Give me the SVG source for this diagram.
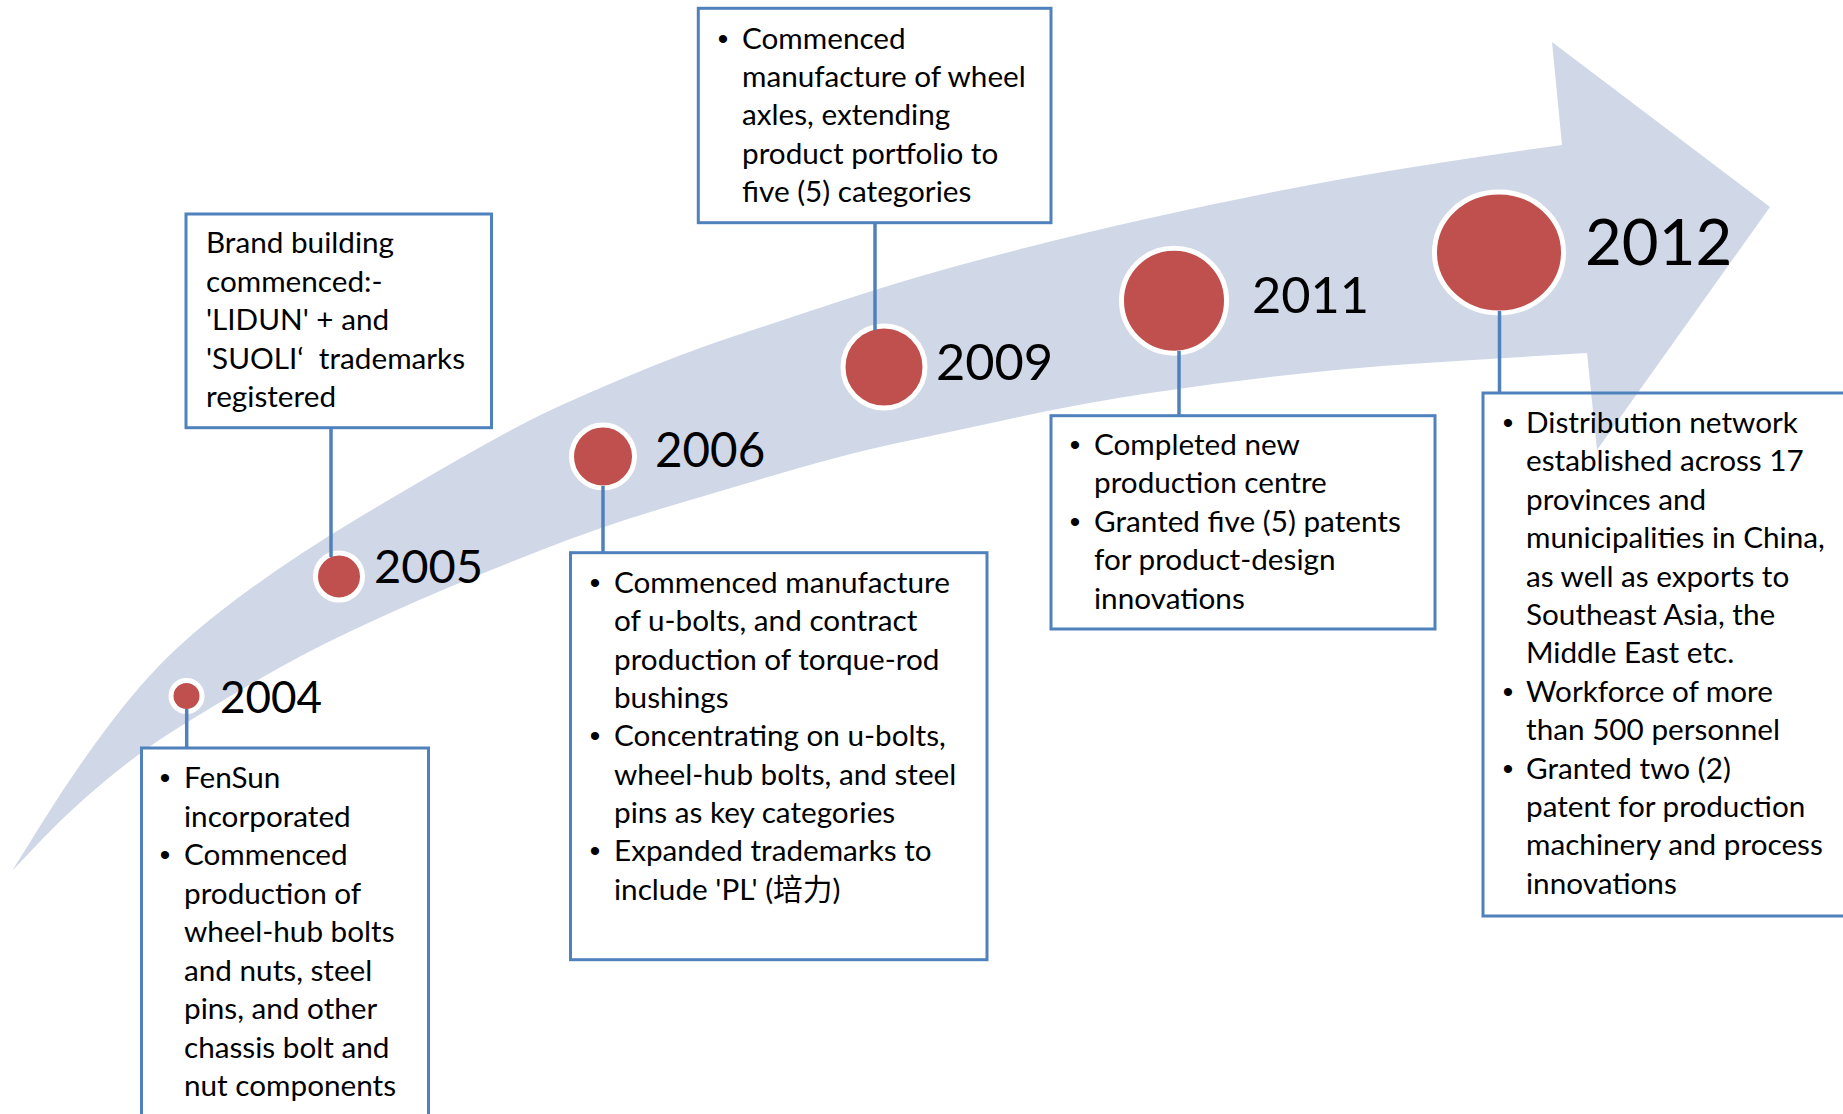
<svg xmlns="http://www.w3.org/2000/svg" width="1843" height="1114" viewBox="0 0 1843 1114">
<style>
.body{font-family:Lato,"Noto Sans CJK SC",sans-serif;font-size:29.7px;fill:#000}
.bul{font-family:"Liberation Sans",sans-serif;font-size:30px;fill:#000;text-anchor:middle}
.year{font-family:Lato,sans-serif;fill:#000}
.box{fill:#fff;stroke:#4F81BD;stroke-width:3}
.boxopen{fill:none;stroke:#4F81BD;stroke-width:3}
.conn{stroke:#4F81BD;stroke-width:3.5;fill:none}
.dot{fill:#C0504D;stroke:#fff;stroke-width:5}
</style>
<rect width="1843" height="1114" fill="#fff"/>
<path id="arrow" fill="#D0D8E8" d="M12,871 L43.5,820.5 Q75,770 109,725 Q143,680 175,650 Q207,620 253.5,586.5 Q300,553 355,520 Q410,487 460,458.5 Q510,430 538.5,416 Q567,402 625,377.5 Q683,353 733,336.5 Q783,320 833,303.5 Q883,287 926.5,274.5 Q970,262 1026.5,247.5 Q1083,233 1150,218 Q1217,203 1283.5,190 Q1350,177 1410,167.5 Q1470,158 1516,151.5 L1562,145 L1552,42 L1770,207 L1597,450 L1587,353 L1528.5,356.5 Q1470,360 1410,364 Q1350,368 1283.5,375.5 Q1217,383 1150,393 Q1083,403 1016.5,417.5 Q950,432 900,442.5 Q850,453 783.5,472.5 Q717,492 658.5,509.5 Q600,527 541.5,550 Q483,573 441.5,590.5 Q400,608 350,631.5 Q300,655 250,684.5 Q200,714 170,733 Q140,752 105,781 Q70,810 41,840.5 L12,871 Z"/>

<g id="n2004">
<rect class="box" x="141.5" y="748" width="287" height="380"/>
<text class="bul" x="165" y="788">•</text>
<text class="bul" x="165" y="865">•</text>
<text class="body">
<tspan x="184" y="788">FenSun</tspan>
<tspan x="184" y="826.5">incorporated</tspan>
<tspan x="184" y="865">Commenced</tspan>
<tspan x="184" y="903.5">production of</tspan>
<tspan x="184" y="942">wheel-hub bolts</tspan>
<tspan x="184" y="980.5">and nuts, steel</tspan>
<tspan x="184" y="1019">pins, and other</tspan>
<tspan x="184" y="1057.5">chassis bolt and</tspan>
<tspan x="184" y="1096">nut components</tspan>
</text>
<circle class="dot" cx="186.5" cy="696" r="15.5"/>
<text class="year" x="220" y="712.7" font-size="44">2004</text>
</g>

<g id="n2005">
<rect class="box" x="186" y="214" width="305.5" height="213.7"/>
<text class="body" xml:space="preserve">
<tspan x="206" y="253">Brand building</tspan>
<tspan x="206" y="291.5">commenced:-</tspan>
<tspan x="206" y="330">'LIDUN' + and</tspan>
<tspan x="206" y="368.5">'SUOLI‘  trademarks</tspan>
<tspan x="206" y="407">registered</tspan>
</text>
<circle class="dot" cx="339" cy="576.5" r="23.5"/>
<text class="year" x="374" y="583.3" font-size="47">2005</text>
</g>

<g id="n2006">
<rect class="box" x="570.5" y="552.7" width="416.5" height="407"/>
<text class="bul" x="595" y="592.7">•</text>
<text class="bul" x="595" y="746.2">•</text>
<text class="bul" x="595" y="861.4">•</text>
<text class="body">
<tspan x="614" y="592.7">Commenced manufacture</tspan>
<tspan x="614" y="631.1">of u-bolts, and contract</tspan>
<tspan x="614" y="669.5">production of torque-rod</tspan>
<tspan x="614" y="707.9">bushings</tspan>
<tspan x="614" y="746.2">Concentrating on u-bolts,</tspan>
<tspan x="614" y="784.6">wheel-hub bolts, and steel</tspan>
<tspan x="614" y="823">pins as key categories</tspan>
<tspan x="614" y="861.4">Expanded trademarks to</tspan>
<tspan x="614" y="899.8">include 'PL' (培力)</tspan>
</text>
<circle class="dot" cx="603" cy="456.5" r="31.5"/>
<text class="year" x="655" y="466.7" font-size="47.5">2006</text>
</g>

<g id="n2009">
<rect class="box" x="698.3" y="8.3" width="352.7" height="214.4"/>
<text class="bul" x="723" y="48.5">•</text>
<text class="body">
<tspan x="742" y="48.5">Commenced</tspan>
<tspan x="742" y="86.9">manufacture of wheel</tspan>
<tspan x="742" y="125.3">axles, extending</tspan>
<tspan x="742" y="163.7">product portfolio to</tspan>
<tspan x="742" y="202.1">five (5) categories</tspan>
</text>
<circle class="dot" cx="884" cy="367" r="41"/>
<text class="year" x="936" y="380" font-size="50.5">2009</text>
</g>

<g id="n2011">
<rect class="box" x="1051" y="415.7" width="384" height="213.3"/>
<text class="bul" x="1075" y="455">•</text>
<text class="bul" x="1075" y="531.8">•</text>
<text class="body">
<tspan x="1094" y="455">Completed new</tspan>
<tspan x="1094" y="493.4">production centre</tspan>
<tspan x="1094" y="531.8">Granted five (5) patents</tspan>
<tspan x="1094" y="570.2">for product-design</tspan>
<tspan x="1094" y="608.6">innovations</tspan>
</text>
<circle class="dot" cx="1174" cy="300.7" r="52.5"/>
<text class="year" x="1252" y="313.3" font-size="50.5">2011</text>
</g>

<g id="n2012">
<rect class="boxopen" x="1483" y="393" width="380" height="523"/>
<text class="bul" x="1508" y="433">•</text>
<text class="bul" x="1508" y="701.8">•</text>
<text class="bul" x="1508" y="778.6">•</text>
<text class="body">
<tspan x="1526" y="433">Distribution network</tspan>
<tspan x="1526" y="471.4">established across 17</tspan>
<tspan x="1526" y="509.8">provinces and</tspan>
<tspan x="1526" y="548.2">municipalities in China,</tspan>
<tspan x="1526" y="586.6">as well as exports to</tspan>
<tspan x="1526" y="625">Southeast Asia, the</tspan>
<tspan x="1526" y="663.4">Middle East etc.</tspan>
<tspan x="1526" y="701.8">Workforce of more</tspan>
<tspan x="1526" y="740.2">than 500 personnel</tspan>
<tspan x="1526" y="778.6">Granted two (2)</tspan>
<tspan x="1526" y="817">patent for production</tspan>
<tspan x="1526" y="855.4">machinery and process</tspan>
<tspan x="1526" y="893.8">innovations</tspan>
</text>
<ellipse class="dot" cx="1499" cy="252.5" rx="64.5" ry="60.5"/>
<text class="year" x="1585" y="265" font-size="63.5">2012</text>
</g>

<g id="connectors">
<path class="conn" d="M186.7,709 V748"/>
<path class="conn" d="M331,428 V557"/>
<path class="conn" d="M603,486 V552.7"/>
<path class="conn" d="M875,222.7 V330"/>
<path class="conn" d="M1179,351 V415.7"/>
<path class="conn" d="M1499.5,311 V393"/>
</g>
</svg>
